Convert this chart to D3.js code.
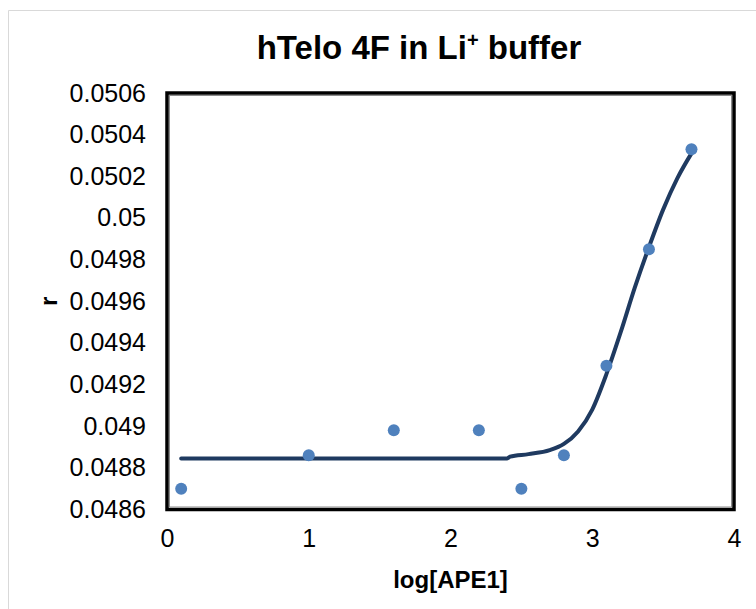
<!DOCTYPE html>
<html>
<head>
<meta charset="utf-8">
<script src="https://cdn.jsdelivr.net/npm/d3@7/dist/d3.min.js"></script>
<style>
  html, body { margin: 0; padding: 0; background: #fff; }
  svg { display: block; font-family: "Liberation Sans", Arial, sans-serif; }
</style>
</head>
<body>
<div id="chart"></div>
<script>
// Measured points: log[APE1] vs r
const logAPE = [0.1, 1.0, 1.6, 2.2, 2.5, 2.8, 3.1, 3.4, 3.7];
const rValues = [0.04870, 0.04886, 0.04898, 0.04898, 0.04870, 0.04886, 0.04929, 0.04985, 0.05033];

// Fitted curve
const fitX = [0.1, 0.6, 1.1, 1.6, 2.1, 2.4, 2.42, 2.55, 2.7, 2.8, 2.9, 3.0, 3.1, 3.2, 3.3, 3.4, 3.5, 3.6, 3.7];
const fitY = [0.048845, 0.048845, 0.048845, 0.048845, 0.048845, 0.048845, 0.048854, 0.048866, 0.048885,
              0.048915, 0.048975, 0.049080, 0.049250, 0.049450, 0.049665, 0.049860, 0.050040, 0.050190, 0.050310];

const xTicks = [0, 1, 2, 3, 4];
const yTicks = [0.0486, 0.0488, 0.049, 0.0492, 0.0494, 0.0496, 0.0498, 0.05, 0.0502, 0.0504, 0.0506];

const titleText = "hTelo 4F in Li";
const xLabel = "log[APE1]";
const yLabel = "r";

const width = 756, height = 609;
const margin = { top: 93, right: 22, bottom: 100, left: 167 };
const innerWidth = 734 - margin.left;
const innerHeight = 509.5 - margin.top;
const fontFamily = "'Liberation Sans', Arial, sans-serif";

const svg = d3.select("#chart").append("svg")
    .attr("width", width)
    .attr("height", height)
    .attr("font-family", fontFamily);

// light chart-area frame (only top and left edges are inside the picture)
svg.append("path")
    .attr("d", `M8.5,${height}V10.5H${width}`)
    .attr("fill", "none")
    .attr("stroke", "#d9d9d9");

const g = svg.append("g")
    .attr("transform", `translate(${margin.left},${margin.top})`);

const xScale = d3.scaleLinear().domain([0, 4]).range([0, innerWidth]);
const yScale = d3.scaleLinear().domain([0.0486, 0.0506]).range([innerHeight, 0]);

// Y axis (labels only)
const yAxis = g.append("g")
    .call(d3.axisLeft(yScale).tickValues(yTicks).tickSize(0).tickPadding(21)
        .tickFormat(d => String(+d.toFixed(4))))
    .attr("font-family", fontFamily)
    .attr("font-size", 25);
yAxis.select(".domain").remove();
yAxis.selectAll("text").attr("fill", "#000");

// X axis (labels only)
const xAxis = g.append("g")
    .attr("transform", `translate(0,${innerHeight})`)
    .call(d3.axisBottom(xScale).tickValues(xTicks).tickSize(0).tickPadding(20).tickFormat(d3.format("d")))
    .attr("font-family", fontFamily)
    .attr("font-size", 25);
xAxis.select(".domain").remove();
xAxis.selectAll("text").attr("fill", "#000");

// Plot box: thick black outline with thin grey inner line
g.append("rect")
    .attr("x", 0).attr("y", 0)
    .attr("width", innerWidth).attr("height", innerHeight)
    .attr("fill", "none")
    .attr("stroke", "#000")
    .attr("stroke-width", 3.5);
g.append("rect")
    .attr("x", 2.5).attr("y", 2.5)
    .attr("width", innerWidth - 5).attr("height", innerHeight - 5)
    .attr("fill", "none")
    .attr("stroke", "#8c8c8c")
    .attr("stroke-width", 1);

// Fitted curve
const fitData = fitX.map((x, i) => ({ x: x, y: fitY[i] }));
const line = d3.line()
    .x(d => xScale(d.x))
    .y(d => yScale(d.y))
    .curve(d3.curveMonotoneX);

g.append("path")
    .datum(fitData)
    .attr("d", line)
    .attr("fill", "none")
    .attr("stroke", "#1f3a60")
    .attr("stroke-width", 4)
    .attr("stroke-linecap", "round");

// Data points
const pts = logAPE.map((x, i) => ({ x: x, y: rValues[i] }));
g.selectAll(".dot")
    .data(pts)
    .enter().append("circle")
    .attr("class", "dot")
    .attr("cx", d => xScale(d.x))
    .attr("cy", d => yScale(d.y))
    .attr("r", 6)
    .attr("fill", "#4f81bd");

// Title with superscript +
const title = svg.append("text")
    .attr("x", 419)
    .attr("y", 59)
    .attr("text-anchor", "middle")
    .attr("font-size", 33)
    .attr("font-weight", "bold")
    .attr("fill", "#000");
title.append("tspan").text(titleText);
title.append("tspan").attr("dy", -12).attr("font-size", 20).text("+");
title.append("tspan").attr("dy", 12).text(" buffer");

// Axis titles
svg.append("text")
    .attr("x", margin.left + innerWidth / 2)
    .attr("y", 588)
    .attr("text-anchor", "middle")
    .attr("font-size", 24)
    .attr("font-weight", "bold")
    .attr("fill", "#000")
    .text(xLabel);

svg.append("text")
    .attr("transform", `translate(57,${margin.top + innerHeight / 2}) rotate(-90)`)
    .attr("text-anchor", "middle")
    .attr("font-size", 24)
    .attr("font-weight", "bold")
    .attr("fill", "#000")
    .text(yLabel);
</script>
</body>
</html>
